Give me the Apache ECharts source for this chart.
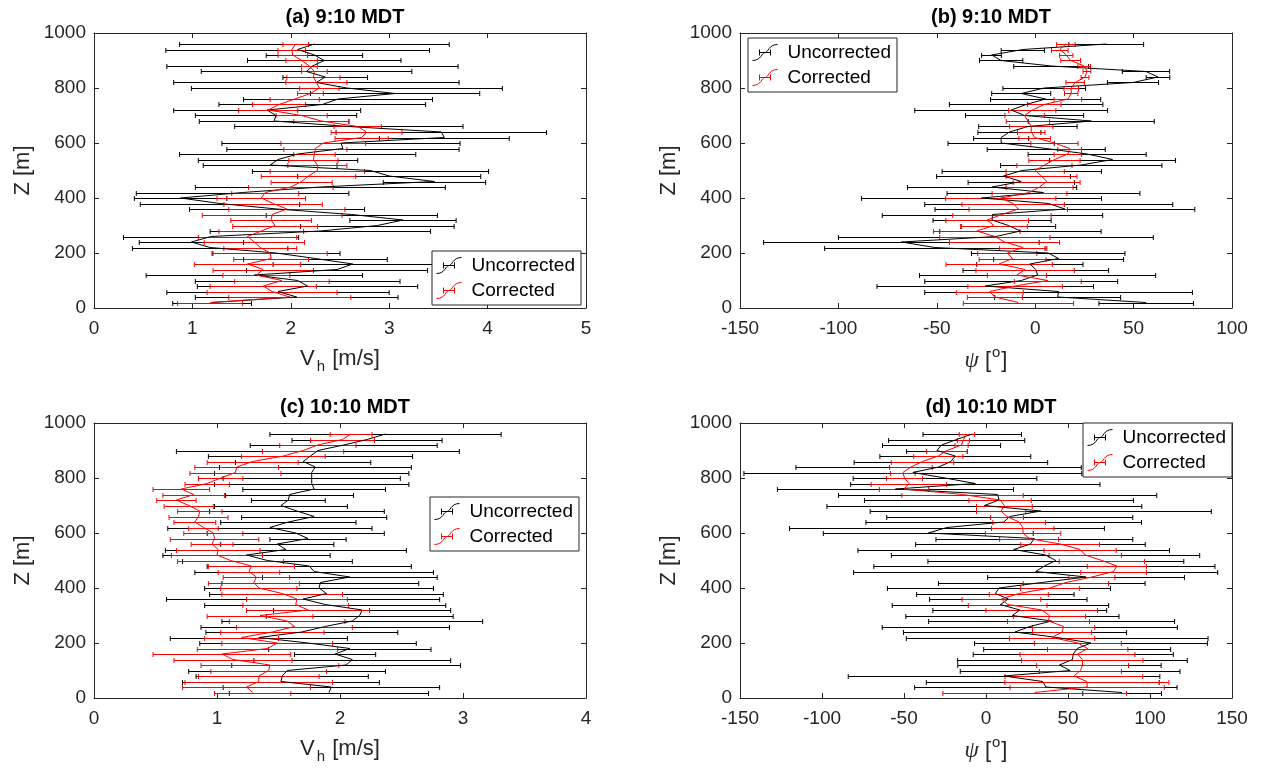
<!DOCTYPE html>
<html><head><meta charset="utf-8">
<script src="https://cdn.jsdelivr.net/npm/echarts@6/dist/echarts.min.js"></script>
<style>html,body{margin:0;padding:0;background:#fff}#c{width:1272px;height:771px}</style>
</head><body><div id="c"></div>
<script>
// Heights (m), top to bottom
const zLevels = [960,940,920,900,880,860,840,820,800,780,760,740,720,700,680,660,640,620,600,580,560,540,520,500,480,460,440,420,400,380,360,340,320,300,280,260,240,220,200,180,160,140,120,100,80,60,40,20];

// (a) 9:10 MDT, Vh [m/s]
const aUncV = [2.24,2.07,2.24,2.34,2.22,2.16,2.35,2.26,2.57,3.06,2.48,2.32,1.76,1.85,1.83,2.59,3.53,3.56,2.51,2.53,2.07,1.87,1.79,2.81,3.00,3.46,2.30,1.51,0.88,1.28,1.86,2.62,3.14,2.88,2.30,1.19,0.99,1.18,1.85,2.25,2.63,2.47,1.63,2.07,2.17,1.87,2.06,1.20];
const aUncE = [1.37,1.34,0.49,0.78,1.48,1.07,0.43,1.45,1.58,0.86,0.96,1.05,0.95,0.82,0.76,1.16,1.07,0.66,1.21,1.18,1.20,0.81,0.68,1.20,0.93,0.52,1.27,1.08,0.47,0.81,0.89,0.87,0.54,0.78,1.12,0.89,0.53,0.79,0.65,0.73,0.81,0.92,1.10,1.04,1.12,1.13,1.03,0.40];
const aCorV = [2.05,2.01,2.02,2.11,2.19,2.24,2.23,2.26,2.29,2.20,2.04,1.88,1.77,2.11,2.31,2.68,2.77,2.72,2.33,2.25,2.24,2.23,2.27,2.27,2.18,2.11,2.00,1.74,1.70,1.82,1.96,1.81,1.80,1.84,1.70,1.56,1.63,1.69,1.79,1.80,1.56,1.72,1.65,1.91,1.72,1.81,1.99,1.18];
const aCorE = [0.13,0.14,0.15,0.16,0.08,0.13,0.27,0.31,0.20,0.13,0.25,0.27,0.30,0.26,0.28,0.24,0.36,0.27,0.43,0.32,0.21,0.25,0.30,0.48,0.48,0.31,0.43,0.34,0.45,0.50,0.59,0.71,0.41,0.43,0.43,0.50,0.51,0.37,0.58,0.38,0.54,0.51,0.34,0.48,0.54,0.66,0.62,0.33];

// (b) 9:10 MDT, psi [deg]
const bUncV = [36.1,-6.3,-22.2,-17.3,8.1,56.3,62.4,49.7,4.6,-7.1,5.3,-4.6,-12.2,-5.4,28.5,-3.7,-13.1,-17.3,-17.3,5.6,26.4,39.3,23.4,-6.8,-16.1,-7.1,-21.9,4.2,-27.3,6.9,15.1,-21.7,-21.9,-13.6,-7.5,-20.0,-68.0,-51.0,6.6,11.9,-2.7,0.3,1.2,-7.1,-25.4,11.9,11.4,56.4];
const bUncE = [19,11,5,11,19,12,6,13,21,15,28,39,49,30,32,25,16,14,27,30,30,32,41,40.5,34,27,43,49,61,63,66,56,30,24,41,80,70,56,39,33,27,37,60,49,55,68,32,24];
const bCorV = [15.6,12.5,15.8,18,24.9,26.3,25.3,20.3,18.3,18.3,16.6,4.6,-1.5,-5.4,-3.7,-2.0,-2.0,-0.3,9.8,17.5,16.6,9.8,4.7,0,3.2,5.8,2.2,-2.9,-17.5,-11.2,-8.6,-16.9,-24.4,-21.0,-29.7,-20.5,-15.6,-6.1,-14.2,-11.5,-18.3,-5.1,-9.3,6.4,-10.2,-23.1,-20.5,-8.5];
const bCorE = [4.7,4.2,3.4,5,3.2,2,2,4.7,3.7,3.4,7,8.5,12,10,11,11,7,8,12,6,7,13,14,14.8,18,17,17,19,28,26,25,25,21,17,22,28,28,12,15,17,27,25,15,17,24,17,14,28];

// (c) 10:10 MDT, Vh [m/s]
const cUncV = [2.37,2.22,2.03,1.82,1.76,1.70,1.80,1.77,1.77,1.77,1.79,1.59,1.58,1.52,1.65,1.79,1.58,1.43,1.64,1.74,1.49,1.56,1.24,1.41,1.75,1.79,2.08,1.84,1.83,1.89,1.70,1.88,2.18,2.16,2.10,1.88,1.69,1.34,1.74,2.08,1.96,2.10,2.05,1.57,1.53,1.52,1.93,1.91];
const cUncE = [0.94,0.61,0.76,1.15,0.83,0.55,0.78,0.79,0.72,0.79,0.58,0.52,0.30,0.54,0.71,0.59,0.55,0.83,0.72,0.31,0.46,0.98,0.68,0.69,0.83,0.97,0.71,0.80,0.93,0.95,1.11,0.98,0.72,0.76,1.06,1.01,0.78,0.72,0.88,0.66,0.33,0.80,0.93,0.80,0.70,0.80,0.88,0.81];
const cCorV = [2.09,2.02,1.82,1.70,1.54,1.29,1.16,1.15,1.03,0.92,0.71,0.81,0.67,0.77,0.86,0.85,0.82,0.89,0.97,0.98,0.96,1.01,1.00,1.11,1.28,1.26,1.32,1.30,1.34,1.53,1.65,1.64,1.74,1.35,1.57,1.63,1.45,1.20,1.49,1.41,1.04,1.13,1.43,1.42,1.34,1.34,1.24,1.29];
const cCorE = [0.17,0.26,0.31,0.33,0.34,0.37,0.34,0.37,0.18,0.18,0.23,0.25,0.16,0.20,0.18,0.24,0.17,0.12,0.24,0.36,0.17,0.34,0.37,0.43,0.35,0.25,0.27,0.37,0.31,0.49,0.41,0.43,0.50,0.43,0.47,0.47,0.42,0.30,0.45,0.57,0.56,0.48,0.56,0.47,0.49,0.60,0.52,0.31];

// (d) 10:10 MDT, psi [deg]
const dUncV = [-8.4,-17.9,-27.1,-29.9,-18.7,-21.4,-28.9,-44.6,-25,-6.5,-55.2,7.1,7.9,-1.0,33.4,14.5,10.8,-23.8,-35.2,29.5,27.1,16.9,36.3,42.6,35.6,30.3,61,34,7.9,5.7,13.6,8.8,20.6,16.1,40,26.7,17.7,43.4,64,55.6,53.2,52.7,44.8,51.3,11,34.6,36.5,83];
const dUncE = [30,41.5,36,18.5,46,59,87,103,56,76,72,97,82,96,104,75,84,96,64,60,70,95,94,78,104,111,60,63,68,48,48,66,53,65,75,90,68,92,71,57,61,70,62,67,95,71,80,24];
const dCorV = [-11.6,-13.8,-14.9,-23.8,-29.1,-38.7,-45.8,-50.7,-49.7,-47,-50,-14.3,8.6,11.2,9.2,12.8,20.2,22.4,22.6,26.3,45.2,57.4,60.5,70.7,79.8,77.8,64.6,48.7,39.1,20,9.4,13.2,34,38.7,38.1,47.3,46.4,40.3,56,62,55.8,58.7,58.9,57.6,53.6,61.5,61.7,29.7];
const dCorE = [4.7,3.7,4,12.4,15,19,13,7.5,11,23,15,37,19,17,15,10,16,19,23,18,24,22,22,26,18,20,14,26,18,18,24,24,34,22,25,19,18,26,26.5,24.5,35,37,28,25,42,50,47,56];

const seriesNames = ['Uncorrected', 'Corrected'];
const titles = ['(a) 9:10 MDT', '(b) 9:10 MDT', '(c) 10:10 MDT', '(d) 10:10 MDT'];
const yTicks = [0, 200, 400, 600, 800, 1000];

const FONT = "'Liberation Sans', Arial, Helvetica, sans-serif";
const AX = '#262626';
const W = 492, H = 275;
const panels = [
  {left: 94,  top: 33,  xMin: 0,    xMax: 5,   xInt: 1,  xName: 'vh',  unc: [aUncV, aUncE], cor: [aCorV, aCorE], lg: {left: 432, top: 251}},
  {left: 740, top: 33,  xMin: -150, xMax: 100, xInt: 50, xName: 'psi', unc: [bUncV, bUncE], cor: [bCorV, bCorE], lg: {left: 748, top: 38}},
  {left: 94,  top: 423, xMin: 0,    xMax: 4,   xInt: 1,  xName: 'vh',  unc: [cUncV, cUncE], cor: [cCorV, cCorE], lg: {left: 430, top: 497}},
  {left: 740, top: 423, xMin: -150, xMax: 150, xInt: 50, xName: 'psi', unc: [dUncV, dUncE], cor: [dCorV, dCorE], lg: {left: 1083, top: 423}}
];

const ICON = 'path://M0,16 C9,16 9,8 12.5,8 C16,8 16,0 25,0 M7,8 L18,8 M7,5 L7,11 M18,5 L18,11';

const nameRich = {
  n:   {fontSize: 22, lineHeight: 22, verticalAlign: 'top', fontFamily: FONT, color: AX},
  sub: {fontSize: 15, lineHeight: 15, padding: [16, 1, 0, 2], fontFamily: FONT, color: AX},
  m:   {fontSize: 22, lineHeight: 24, verticalAlign: 'bottom', fontFamily: FONT, color: AX},
  psi: {fontSize: 23, lineHeight: 24, verticalAlign: 'bottom', fontFamily: "'Liberation Serif', 'DejaVu Serif', serif", fontStyle: 'italic', color: AX},
  sup: {fontSize: 15, lineHeight: 15, padding: [0, 1, 14, 1], fontFamily: FONT, color: AX}
};
const xNames = {
  vh: '{n|V}{sub|h}{n| [m/s]}',
  psi: '{psi|ψ}{m| [}{sup|o}{m|]}'
};

function errorBarSeries(vals, errs, name, color, idx) {
  const data = zLevels.map((z, k) => [vals[k] - errs[k], vals[k] + errs[k], z]);
  return {
    type: 'custom', name: name, xAxisIndex: 2 * idx, yAxisIndex: 2 * idx,
    itemStyle: {color: color},
    encode: {x: [0, 1], y: 2},
    data: data,
    silent: true,
    renderItem: function (params, api) {
      const lo = api.coord([api.value(0), api.value(2)]);
      const hi = api.coord([api.value(1), api.value(2)]);
      const y = Math.round(lo[1]) + 0.5;
      const c = 2.5;
      const st = {stroke: color, lineWidth: 1};
      return {type: 'group', children: [
        {type: 'line', shape: {x1: lo[0], y1: y, x2: hi[0], y2: y}, style: st},
        {type: 'line', shape: {x1: lo[0], y1: y - c, x2: lo[0], y2: y + c}, style: st},
        {type: 'line', shape: {x1: hi[0], y1: y - c, x2: hi[0], y2: y + c}, style: st}
      ]};
    }
  };
}
function lineSeries(vals, name, color, idx) {
  return {
    type: 'line', name: name, xAxisIndex: 2 * idx, yAxisIndex: 2 * idx,
    data: zLevels.map((z, k) => [vals[k], z]),
    showSymbol: false, symbol: 'none', silent: true,
    lineStyle: {color: color, width: 1}, itemStyle: {color: color}
  };
}

const option = {
  animation: false,
  backgroundColor: '#fff',
  title: panels.map((p, i) => ({
    text: titles[i], left: p.left + W / 2, top: p.top - 31, textAlign: 'center',
    textStyle: {fontSize: 20, fontWeight: 'bold', color: '#000', fontFamily: FONT}
  })),
  legend: panels.map(p => ({
    orient: 'vertical', left: p.lg.left, top: p.lg.top,
    itemWidth: 25, itemHeight: 16, itemGap: 6,
    padding: [5, 6, 5, 4],
    borderColor: AX, borderWidth: 1, backgroundColor: '#fff',
    selectedMode: false,
    textStyle: {fontSize: 19, fontFamily: FONT, color: '#000', padding: [0, 0, 0, 5]},
    data: [
      {name: seriesNames[0], icon: ICON, itemStyle: {color: 'transparent', borderColor: '#000', borderWidth: 1}},
      {name: seriesNames[1], icon: ICON, itemStyle: {color: 'transparent', borderColor: '#ff0000', borderWidth: 1}}
    ]
  })),
  grid: panels.map(p => ({left: p.left, top: p.top, width: W, height: H, show: false})),
  xAxis: [],
  yAxis: [],
  series: []
};

panels.forEach((p, i) => {
  const base = {
    type: 'value', gridIndex: i, min: p.xMin, max: p.xMax, interval: p.xInt,
    axisLine: {show: true, onZero: false, lineStyle: {color: AX, width: 1}},
    axisTick: {show: true, inside: true, length: 5, lineStyle: {color: AX}},
    splitLine: {show: false}
  };
  option.xAxis.push(Object.assign({}, base, {
    position: 'bottom',
    axisLabel: {show: true, fontSize: 19, color: AX, fontFamily: FONT, margin: 11},
    name: xNames[p.xName], nameLocation: 'middle', nameGap: 40,
    nameTextStyle: {rich: nameRich}
  }));
  option.xAxis.push(Object.assign({}, base, {position: 'top', axisLabel: {show: false}}));

  const ybase = {
    type: 'value', gridIndex: i, min: 0, max: 1000, interval: 200,
    axisLine: {show: true, onZero: false, lineStyle: {color: AX, width: 1}},
    axisTick: {show: true, inside: true, length: 5, lineStyle: {color: AX}},
    splitLine: {show: false}
  };
  option.yAxis.push(Object.assign({}, ybase, {
    position: 'left',
    axisLabel: {show: true, fontSize: 19, color: AX, fontFamily: FONT, margin: 8,
      formatter: v => (yTicks.indexOf(v) >= 0 ? String(v) : '')},
    name: 'Z [m]', nameLocation: 'middle', nameGap: 60,
    nameTextStyle: {fontSize: 22, color: AX, fontFamily: FONT}
  }));
  option.yAxis.push(Object.assign({}, ybase, {position: 'right', axisLabel: {show: false}}));

  option.series.push(errorBarSeries(p.unc[0], p.unc[1], seriesNames[0], '#000000', i));
  option.series.push(lineSeries(p.unc[0], seriesNames[0], '#000000', i));
  option.series.push(errorBarSeries(p.cor[0], p.cor[1], seriesNames[1], '#ff0000', i));
  option.series.push(lineSeries(p.cor[0], seriesNames[1], '#ff0000', i));
});

const chart = echarts.init(document.getElementById('c'), null, {renderer: 'canvas'});
chart.setOption(option);
</script>
</body></html>
